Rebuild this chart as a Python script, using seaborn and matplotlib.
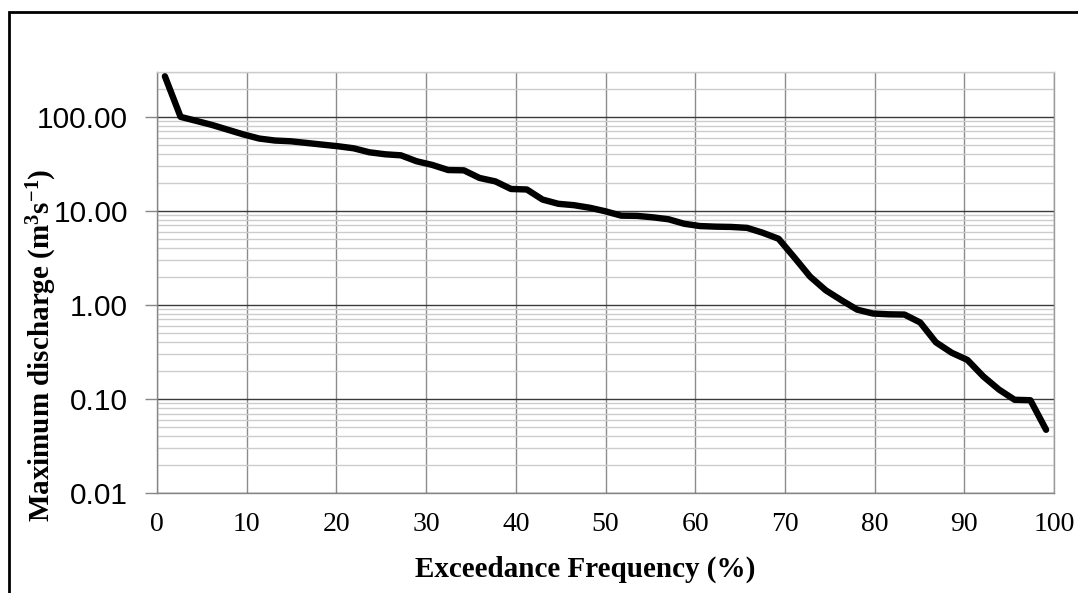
import matplotlib
matplotlib.use("Agg")
import matplotlib.pyplot as plt
from matplotlib.ticker import LogLocator, FixedLocator, FixedFormatter, NullFormatter
from matplotlib.patches import Rectangle
import seaborn as sns
import pandas as pd

# Exceedance frequency (%) of each ranked annual maximum
exceedance_pct = [
    0.88, 2.63, 4.39, 6.14, 7.89, 9.65, 11.40, 13.16, 14.91, 16.67,
    18.42, 20.18, 21.93, 23.68, 25.44, 27.19, 28.95, 30.70, 32.46, 34.21,
    35.96, 37.72, 39.47, 41.23, 42.98, 44.74, 46.49, 48.25, 50.00, 51.75,
    53.51, 55.26, 57.02, 58.77, 60.53, 62.28, 64.04, 65.79, 67.54, 69.30,
    71.05, 72.81, 74.56, 76.32, 78.07, 79.82, 81.58, 83.33, 85.09, 86.84,
    88.60, 90.35, 92.11, 93.86, 95.61, 97.37, 99.12,
]

# Maximum discharge (m3/s), ranked from largest to smallest
max_discharge = [
    270, 100, 90.6, 82, 73, 65, 58.8, 56, 55, 52.8,
    50.7, 48.7, 46.3, 42, 40, 39, 33.7, 30.8, 27.2, 27.0,
    22.4, 20.6, 17.1, 16.9, 13.2, 11.9, 11.5, 10.8, 9.9, 8.9,
    8.85, 8.55, 8.15, 7.3, 6.9, 6.8, 6.75, 6.6, 5.85, 5.05,
    3.2, 2.0, 1.43, 1.12, 0.89, 0.81, 0.795, 0.79, 0.65, 0.40,
    0.31, 0.26, 0.174, 0.126, 0.098, 0.097, 0.047,
]

x_ticks = [0, 10, 20, 30, 40, 50, 60, 70, 80, 90, 100]
y_ticks = [0.01, 0.1, 1, 10, 100]
y_tick_labels = ["0.01", "0.10", "1.00", "10.00", "100.00"]

sns.set_theme(style="white")
plt.rcParams["text.color"] = "black"
plt.rcParams["axes.labelcolor"] = "black"
plt.rcParams["xtick.color"] = "black"
plt.rcParams["ytick.color"] = "black"
plt.rcParams["mathtext.fontset"] = "custom"
plt.rcParams["mathtext.rm"] = "Liberation Serif:bold"
plt.rcParams["mathtext.bf"] = "Liberation Serif:bold"
plt.rcParams["mathtext.it"] = "Liberation Serif:bold"

df = pd.DataFrame({"freq": exceedance_pct, "q": max_discharge})

fig = plt.figure(figsize=(10.78, 5.93), dpi=100)
fig.patch.set_facecolor("white")
ax = fig.add_axes([157 / 1078, 1 - 493 / 593, (1054 - 157) / 1078, (493 - 72) / 593])

sns.lineplot(data=df, x="freq", y="q", ax=ax, color="black", linewidth=4.6,
             solid_joinstyle="round", solid_capstyle="round", zorder=5)

ax.set_yscale("log")
ax.set_xlim(0, 100)
ax.set_ylim(0.01, 300)

ax.xaxis.set_major_locator(FixedLocator(x_ticks))
ax.set_xticklabels([str(t) for t in x_ticks], fontfamily="Liberation Serif",
                   fontsize=20, color="black")
ax.yaxis.set_major_locator(FixedLocator(y_ticks))
ax.yaxis.set_major_formatter(FixedFormatter(y_tick_labels))
ax.yaxis.set_minor_locator(LogLocator(base=10, subs=range(2, 10), numticks=20))
ax.yaxis.set_minor_formatter(NullFormatter())
for lab in ax.get_yticklabels():
    lab.set_fontfamily("Liberation Sans")
    lab.set_fontsize(21.5)
    lab.set_color("black")

ax.tick_params(axis="x", which="both", length=0, pad=14, labelcolor="black")
ax.tick_params(axis="y", which="major", length=9, width=1, color="#868686",
               direction="out", pad=12, labelcolor="black", left=True)
ax.tick_params(axis="y", which="minor", length=0)

ax.grid(False)
ax.xaxis.grid(True, which="major", color="#8c8c8c", linewidth=1.0)
ax.yaxis.grid(True, which="minor", color="#cccccc", linewidth=1.0)
ax.yaxis.grid(True, which="major", color="#3a3a3a", linewidth=1.0)
ax.set_axisbelow(True)

ax.spines["left"].set_color("#868686")
ax.spines["bottom"].set_color("#868686")
ax.spines["right"].set_color("#9a9a9a")
ax.spines["top"].set_color("#cccccc")
for s in ax.spines.values():
    s.set_linewidth(1.0)

ax.set_xlabel("")
ax.set_ylabel("")

fig.text(585 / 1078, 1 - 569 / 593, "Exceedance Frequency (%)",
         fontfamily="Liberation Serif", fontweight="bold", fontsize=21,
         color="black", ha="center", va="center")
fig.text(42 / 1078, 1 - 345 / 593,
         r"Maximum discharge (m$^{\mathbf{3}}$s$^{\mathbf{-1}}$)",
         fontfamily="Liberation Serif", fontweight="bold", fontsize=21,
         color="black", rotation=90, ha="center", va="center")

# outer chart frame
fig.patches.append(Rectangle((9 / 1078, -0.2), 1.2, 1 - 12 / 593 + 0.2,
                             transform=fig.transFigure, fill=False,
                             edgecolor="black", linewidth=2.0, zorder=10))

fig.savefig("out.png", dpi=100)
